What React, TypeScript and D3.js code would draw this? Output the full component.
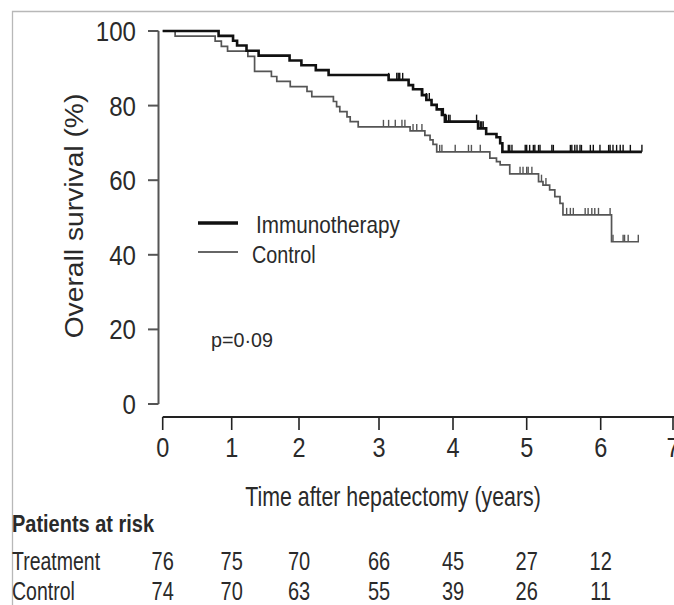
import React from "react";
import * as d3 from "d3";

// ---------- data ----------
const X_TICKS = [0, 1, 2, 3, 4, 5, 6, 7];
const Y_TICKS = [0, 20, 40, 60, 80, 100];

const immunoTimes = [0.81, 1.02, 1.08, 1.22, 1.4, 1.86, 2.03, 2.21, 2.37, 3.13, 3.4, 3.46, 3.58, 3.64, 3.71, 3.78, 3.85, 3.89, 4.34, 4.45, 4.59, 4.64, 4.67];
const immunoSurv = [98.7, 97.4, 96.1, 94.7, 93.4, 92.1, 90.8, 89.5, 88.2, 86.9, 85.5, 84.4, 82.8, 81.5, 80.2, 79.0, 77.5, 75.7, 73.9, 72.4, 71.5, 69.9, 67.6];
const immunoEnd = 6.57;
const immunoCensor = [3.13, 3.24, 3.26, 3.28, 3.32, 3.59, 3.64, 3.68, 3.87, 3.91, 3.94, 3.96, 4.32, 4.37, 4.39, 4.41, 4.75, 4.77, 4.8, 4.98, 5.0, 5.04, 5.09, 5.11, 5.16, 5.18, 5.34, 5.36, 5.59, 5.61, 5.65, 5.68, 5.72, 5.74, 5.86, 5.9, 5.99, 6.11, 6.13, 6.17, 6.22, 6.27, 6.31, 6.41, 6.57];

const controlTimes = [0.18, 0.76, 0.85, 0.94, 1.24, 1.34, 1.59, 1.67, 1.87, 2.1, 2.16, 2.43, 2.47, 2.51, 2.6, 2.64, 2.74, 3.42, 3.62, 3.69, 3.73, 3.78, 4.5, 4.59, 4.64, 4.77, 5.16, 5.22, 5.31, 5.38, 5.45, 5.49, 6.15];
const controlSurv = [98.6, 97.3, 95.9, 94.6, 93.2, 89.2, 87.8, 86.5, 85.1, 83.8, 82.4, 81.1, 79.7, 78.4, 77.0, 75.7, 74.3, 73.2, 72.0, 70.8, 69.6, 67.6, 65.9, 65.0, 64.1, 61.7, 59.6, 58.7, 57.4, 55.6, 53.8, 50.7, 43.5];
const controlEnd = 6.53;
const controlCensor = [3.06, 3.13, 3.22, 3.31, 3.35, 3.46, 3.51, 3.58, 3.82, 3.85, 4.03, 4.21, 4.25, 4.37, 4.91, 4.95, 5.0, 5.02, 5.07, 5.2, 5.26, 5.54, 5.59, 5.63, 5.79, 5.83, 5.88, 5.92, 5.97, 6.13, 6.17, 6.31, 6.33, 6.38, 6.52];

const riskLabels = ["Treatment", "Control"];
const riskTreatment = [76, 75, 70, 66, 45, 27, 12];
const riskControl = [74, 70, 63, 55, 39, 26, 11];

// ---------- layout ----------
const W = 674;
const H = 605;
const X_TICK_POS = [162.7, 231.7, 299, 379, 453, 526.7, 600.7, 673];
const FONT = "'Liberation Sans', Arial, sans-serif";
const TEXT_COLOR = "#2a2a2a";

const x = d3.scaleLinear().domain(X_TICKS).range(X_TICK_POS);
const y = d3.scaleLinear().domain([0, 100]).range([404, 31]);

function T({ x: tx, y: ty, size, sx = 1, sy = 1, rotate = 0, anchor = "start", weight = "normal", children }: any) {
  return (
    <text
      transform={`translate(${tx},${ty}) rotate(${rotate}) scale(${sx},${sy})`}
      fontSize={size}
      fontFamily={FONT}
      fontWeight={weight}
      textAnchor={anchor}
      fill={TEXT_COLOR}
    >
      {children}
    </text>
  );
}

function stepPoints(times: number[], surv: number[], end: number): [number, number][] {
  const pts: [number, number][] = [[0, 100]];
  times.forEach((t, i) => pts.push([t, surv[i]]));
  pts.push([end, surv[surv.length - 1]]);
  return pts;
}

function survAt(times: number[], surv: number[], t: number) {
  let s = 100;
  for (let i = 0; i < times.length; i++) if (times[i] <= t) s = surv[i];
  return s;
}

const line = d3
  .line<[number, number]>()
  .x((d) => x(d[0]))
  .y((d) => y(d[1]))
  .curve(d3.curveStepAfter);

export default function App() {
  const series = [
    { times: controlTimes, surv: controlSurv, end: controlEnd, censor: controlCensor, color: "#555", width: 1.7 },
    { times: immunoTimes, surv: immunoSurv, end: immunoEnd, censor: immunoCensor, color: "#111", width: 2.6 },
  ];
  return (
    <svg width={W} height={H} style={{ position: "absolute", left: 0, top: 0, background: "#fff" }}>
      <rect width={W} height={H} fill="#fff" />
      {/* frame */}
      <path d={`M12.5,${H} V11.5 H${W}`} fill="none" stroke="#b8b8b8" strokeWidth={1.3} />

      {/* y axis */}
      <line x1={158.5} x2={158.5} y1={y(100)} y2={y(0)} stroke="#555" strokeWidth={2} />
      {Y_TICKS.map((v) => (
        <g key={v}>
          <line x1={148} x2={158.5} y1={y(v)} y2={y(v)} stroke="#555" strokeWidth={2} />
          <T x={136} y={y(v) + 10} size={28} sx={0.86} anchor="end">
            {v}
          </T>
        </g>
      ))}
      <T x={83} y={216} size={25} sx={1.13} rotate={-90} anchor="middle">
        Overall survival (%)
      </T>

      {/* x axis */}
      <line x1={x(0)} x2={W} y1={417} y2={417} stroke="#222" strokeWidth={2} />
      {X_TICKS.map((v) => (
        <g key={v}>
          <line x1={x(v)} x2={x(v)} y1={417} y2={430} stroke="#222" strokeWidth={1.6} />
          <T x={x(v)} y={457} size={28} sx={0.84} anchor="middle">
            {v}
          </T>
        </g>
      ))}
      <T x={393} y={506} size={27} sx={0.79} anchor="middle">
        Time after hepatectomy (years)
      </T>

      {/* curves */}
      {series.map((s, i) => (
        <g key={i}>
          <path d={line(stepPoints(s.times, s.surv, s.end)) || ""} fill="none" stroke={s.color} strokeWidth={s.width} />
          {s.censor.map((c, j) => {
            const sv = survAt(s.times, s.surv, c);
            return (
              <line key={j} x1={x(c)} x2={x(c)} y1={y(sv)} y2={y(sv) - 7} stroke={s.color} strokeWidth={1.4} />
            );
          })}
        </g>
      ))}

      {/* legend */}
      <line x1={198} x2={238} y1={223} y2={223} stroke="#111" strokeWidth={3.5} />
      <T x={256} y={233} size={23} sx={0.9}>Immunotherapy</T>
      <line x1={198} x2={238} y1={252} y2={252} stroke="#666" strokeWidth={2} />
      <T x={252} y={263} size={23} sx={0.86}>Control</T>

      <T x={211} y={347} size={21} sx={0.94}>p=0·09</T>

      {/* risk table */}
      <T x={12} y={532} size={23.5} sx={0.85} weight="bold">Patients at risk</T>
      {[riskTreatment, riskControl].map((row, r) => (
        <g key={r}>
          <T x={12} y={570 + r * 30} size={25} sx={0.78}>{riskLabels[r]}</T>
          {row.map((n, k) => (
            <T key={k} x={x(X_TICKS[k])} y={570 + r * 30} size={25} sx={0.8} anchor="middle">
              {n}
            </T>
          ))}
        </g>
      ))}
    </svg>
  );
}
